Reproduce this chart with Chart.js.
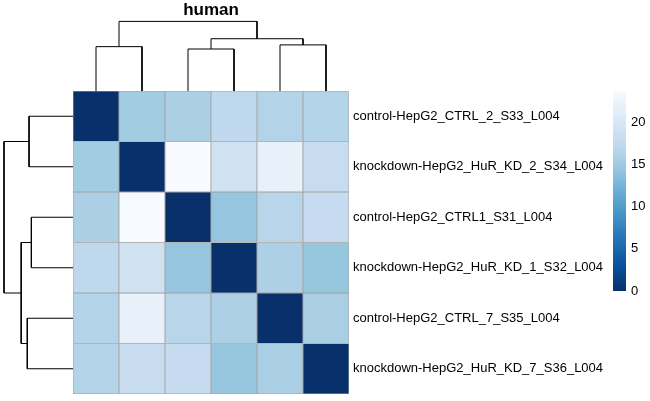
<!DOCTYPE html>
<html>
<head>
<meta charset="utf-8">
<script src="https://cdn.jsdelivr.net/npm/chart.js@4.4.1/dist/chart.umd.min.js"></script>
<style>
  html, body { margin: 0; padding: 0; background: #fff; }
  #wrap { position: relative; width: 650px; height: 401px; overflow: hidden; }
  canvas { position: absolute; }
</style>
</head>
<body>
<div id="wrap">
  <canvas id="topTree" width="276" height="91" style="left:73px;top:0px"></canvas>
  <canvas id="leftTree" width="73" height="303" style="left:0px;top:91px"></canvas>
  <canvas id="heat" width="536" height="335" style="left:73px;top:75px"></canvas>
  <canvas id="scale" width="37" height="232" style="left:613px;top:75px"></canvas>
</div>
<script>
// samples in the order they are shown (rows top->bottom, columns left->right)
const samples = [
  'control-HepG2_CTRL_2_S33_L004',
  'knockdown-HepG2_HuR_KD_2_S34_L004',
  'control-HepG2_CTRL1_S31_L004',
  'knockdown-HepG2_HuR_KD_1_S32_L004',
  'control-HepG2_CTRL_7_S35_L004',
  'knockdown-HepG2_HuR_KD_7_S36_L004'
];

// sample-to-sample distances, one row per sample
const distances = [
  [0, 15.1, 15.8, 17.3, 16.4, 16.4],
  [15.1, 0, 23.7, 19.0, 21.9, 18.0],
  [15.8, 23.7, 0, 14.3, 16.8, 17.8],
  [17.3, 19.0, 14.3, 0, 15.9, 14.4],
  [16.4, 21.9, 16.8, 15.9, 0, 15.7],
  [16.4, 18.0, 17.8, 14.4, 15.7, 0]
];

// clustering tree (leaf = sample index), heights come from complete linkage
const tree = [[0, 1], [[2, 3], [4, 5]]];

const legendTicks = [0, 5, 10, 15, 20];
const title = 'human';

// reversed brewer "Blues"
const blues = ['#08306B', '#08519C', '#2171B5', '#4292C6', '#6BAED6', '#9ECAE1', '#C6DBEF', '#DEEBF7', '#F7FBFF'];

Chart.defaults.font.family = '"Liberation Sans", Arial, Helvetica, sans-serif';
Chart.defaults.color = '#000';

const maxDist = Math.max(...distances.flat());

function hexRgb(h) {
  return [1, 3, 5].map(i => parseInt(h.slice(i, i + 2), 16));
}

function colorFor(v) {
  const t = v / maxDist * (blues.length - 1);
  const i = Math.min(Math.floor(t), blues.length - 2);
  const f = t - i;
  const a = hexRgb(blues[i]), b = hexRgb(blues[i + 1]);
  const c = a.map((x, k) => Math.round(x + (b[k] - x) * f));
  return `rgb(${c[0]},${c[1]},${c[2]})`;
}

// walk the tree, collect the elbow segments of each merge
const segments = [];
function walk(node) {
  if (typeof node === 'number') return { pos: node + 0.5, h: 0, leaves: [node] };
  const a = walk(node[0]), b = walk(node[1]);
  let h = 0;
  a.leaves.forEach(i => b.leaves.forEach(j => { h = Math.max(h, distances[i][j]); }));
  segments.push([[a.pos, a.h], [a.pos, h], [b.pos, h], [b.pos, b.h]]);
  return { pos: (a.pos + b.pos) / 2, h, leaves: a.leaves.concat(b.leaves) };
}
walk(tree);

const lineStyle = {
  showLine: true,
  borderColor: '#000',
  borderWidth: 1,
  pointRadius: 0,
  fill: false,
  clip: false
};

const quiet = {
  responsive: false,
  animation: false,
  events: []
};

// column dendrogram + title
new Chart(document.getElementById('topTree'), {
  type: 'scatter',
  data: {
    datasets: segments.map(s => ({ ...lineStyle, data: s.map(p => ({ x: p[0], y: p[1] })) }))
  },
  options: {
    ...quiet,
    layout: { padding: 0 },
    plugins: {
      legend: { display: false },
      tooltip: { enabled: false },
      title: {
        display: true,
        text: title,
        color: '#000',
        font: { size: 17, weight: 'bold' },
        padding: { top: 0, bottom: 1 }
      }
    },
    scales: {
      x: { display: false, min: 0, max: samples.length },
      y: { display: false, min: 0, max: maxDist }
    }
  }
});

// row dendrogram
new Chart(document.getElementById('leftTree'), {
  type: 'scatter',
  data: {
    datasets: segments.map(s => ({ ...lineStyle, data: s.map(p => ({ x: p[1], y: p[0] })) }))
  },
  options: {
    ...quiet,
    layout: { padding: { left: 4, right: 0, top: 0, bottom: 0 } },
    plugins: { legend: { display: false }, tooltip: { enabled: false } },
    scales: {
      x: { display: false, min: 0, max: maxDist, reverse: true },
      y: { display: false, min: 0, max: samples.length, reverse: true }
    }
  }
});

// heatmap cells: one stacked dataset per row
new Chart(document.getElementById('heat'), {
  type: 'bar',
  data: {
    labels: samples,
    datasets: samples.map((name, r) => ({
      label: name,
      data: samples.map(() => 1),
      backgroundColor: distances[r].map(colorFor),
      borderColor: '#A3A3A3',
      borderWidth: 0.8,
      borderSkipped: false,
      barPercentage: 1,
      categoryPercentage: 1
    }))
  },
  options: {
    ...quiet,
    layout: { padding: { top: 16, bottom: 16, left: 0, right: 0 } },
    plugins: { legend: { display: false }, tooltip: { enabled: false } },
    scales: {
      x: { display: false, stacked: true, offset: true },
      y: { display: false, stacked: true, min: 0, max: samples.length, reverse: true },
      rows: {
        type: 'category',
        labels: samples,
        position: 'right',
        offset: true,
        grid: { display: false, drawTicks: false },
        border: { display: false },
        ticks: { padding: 4, color: '#000', autoSkip: false, font: { size: 13 } },
        afterFit: s => { s.width = 260; }
      }
    }
  }
});

// colour key
new Chart(document.getElementById('scale'), {
  type: 'bar',
  data: {
    labels: [''],
    datasets: [{
      data: [[0, maxDist]],
      backgroundColor: c => {
        const ch = c.chart;
        if (!ch.chartArea) return blues[0];
        const y = ch.scales.y;
        const g = ch.ctx.createLinearGradient(0, y.getPixelForValue(0), 0, y.getPixelForValue(maxDist));
        blues.forEach((col, i) => g.addColorStop(i / (blues.length - 1), col));
        return g;
      },
      borderWidth: 0,
      barPercentage: 1,
      categoryPercentage: 1
    }]
  },
  options: {
    ...quiet,
    layout: { padding: { top: 16, bottom: 16, left: 0, right: 0 } },
    plugins: { legend: { display: false }, tooltip: { enabled: false } },
    scales: {
      x: { display: false, offset: true },
      y: {
        position: 'right',
        min: 0,
        max: maxDist,
        grid: { display: false, drawTicks: false },
        border: { display: false },
        ticks: { padding: 5, color: '#000', font: { size: 13 } },
        afterBuildTicks: s => { s.ticks = legendTicks.map(v => ({ value: v })); },
        afterFit: s => { s.width = 24; }
      }
    }
  }
});
</script>
</body>
</html>
